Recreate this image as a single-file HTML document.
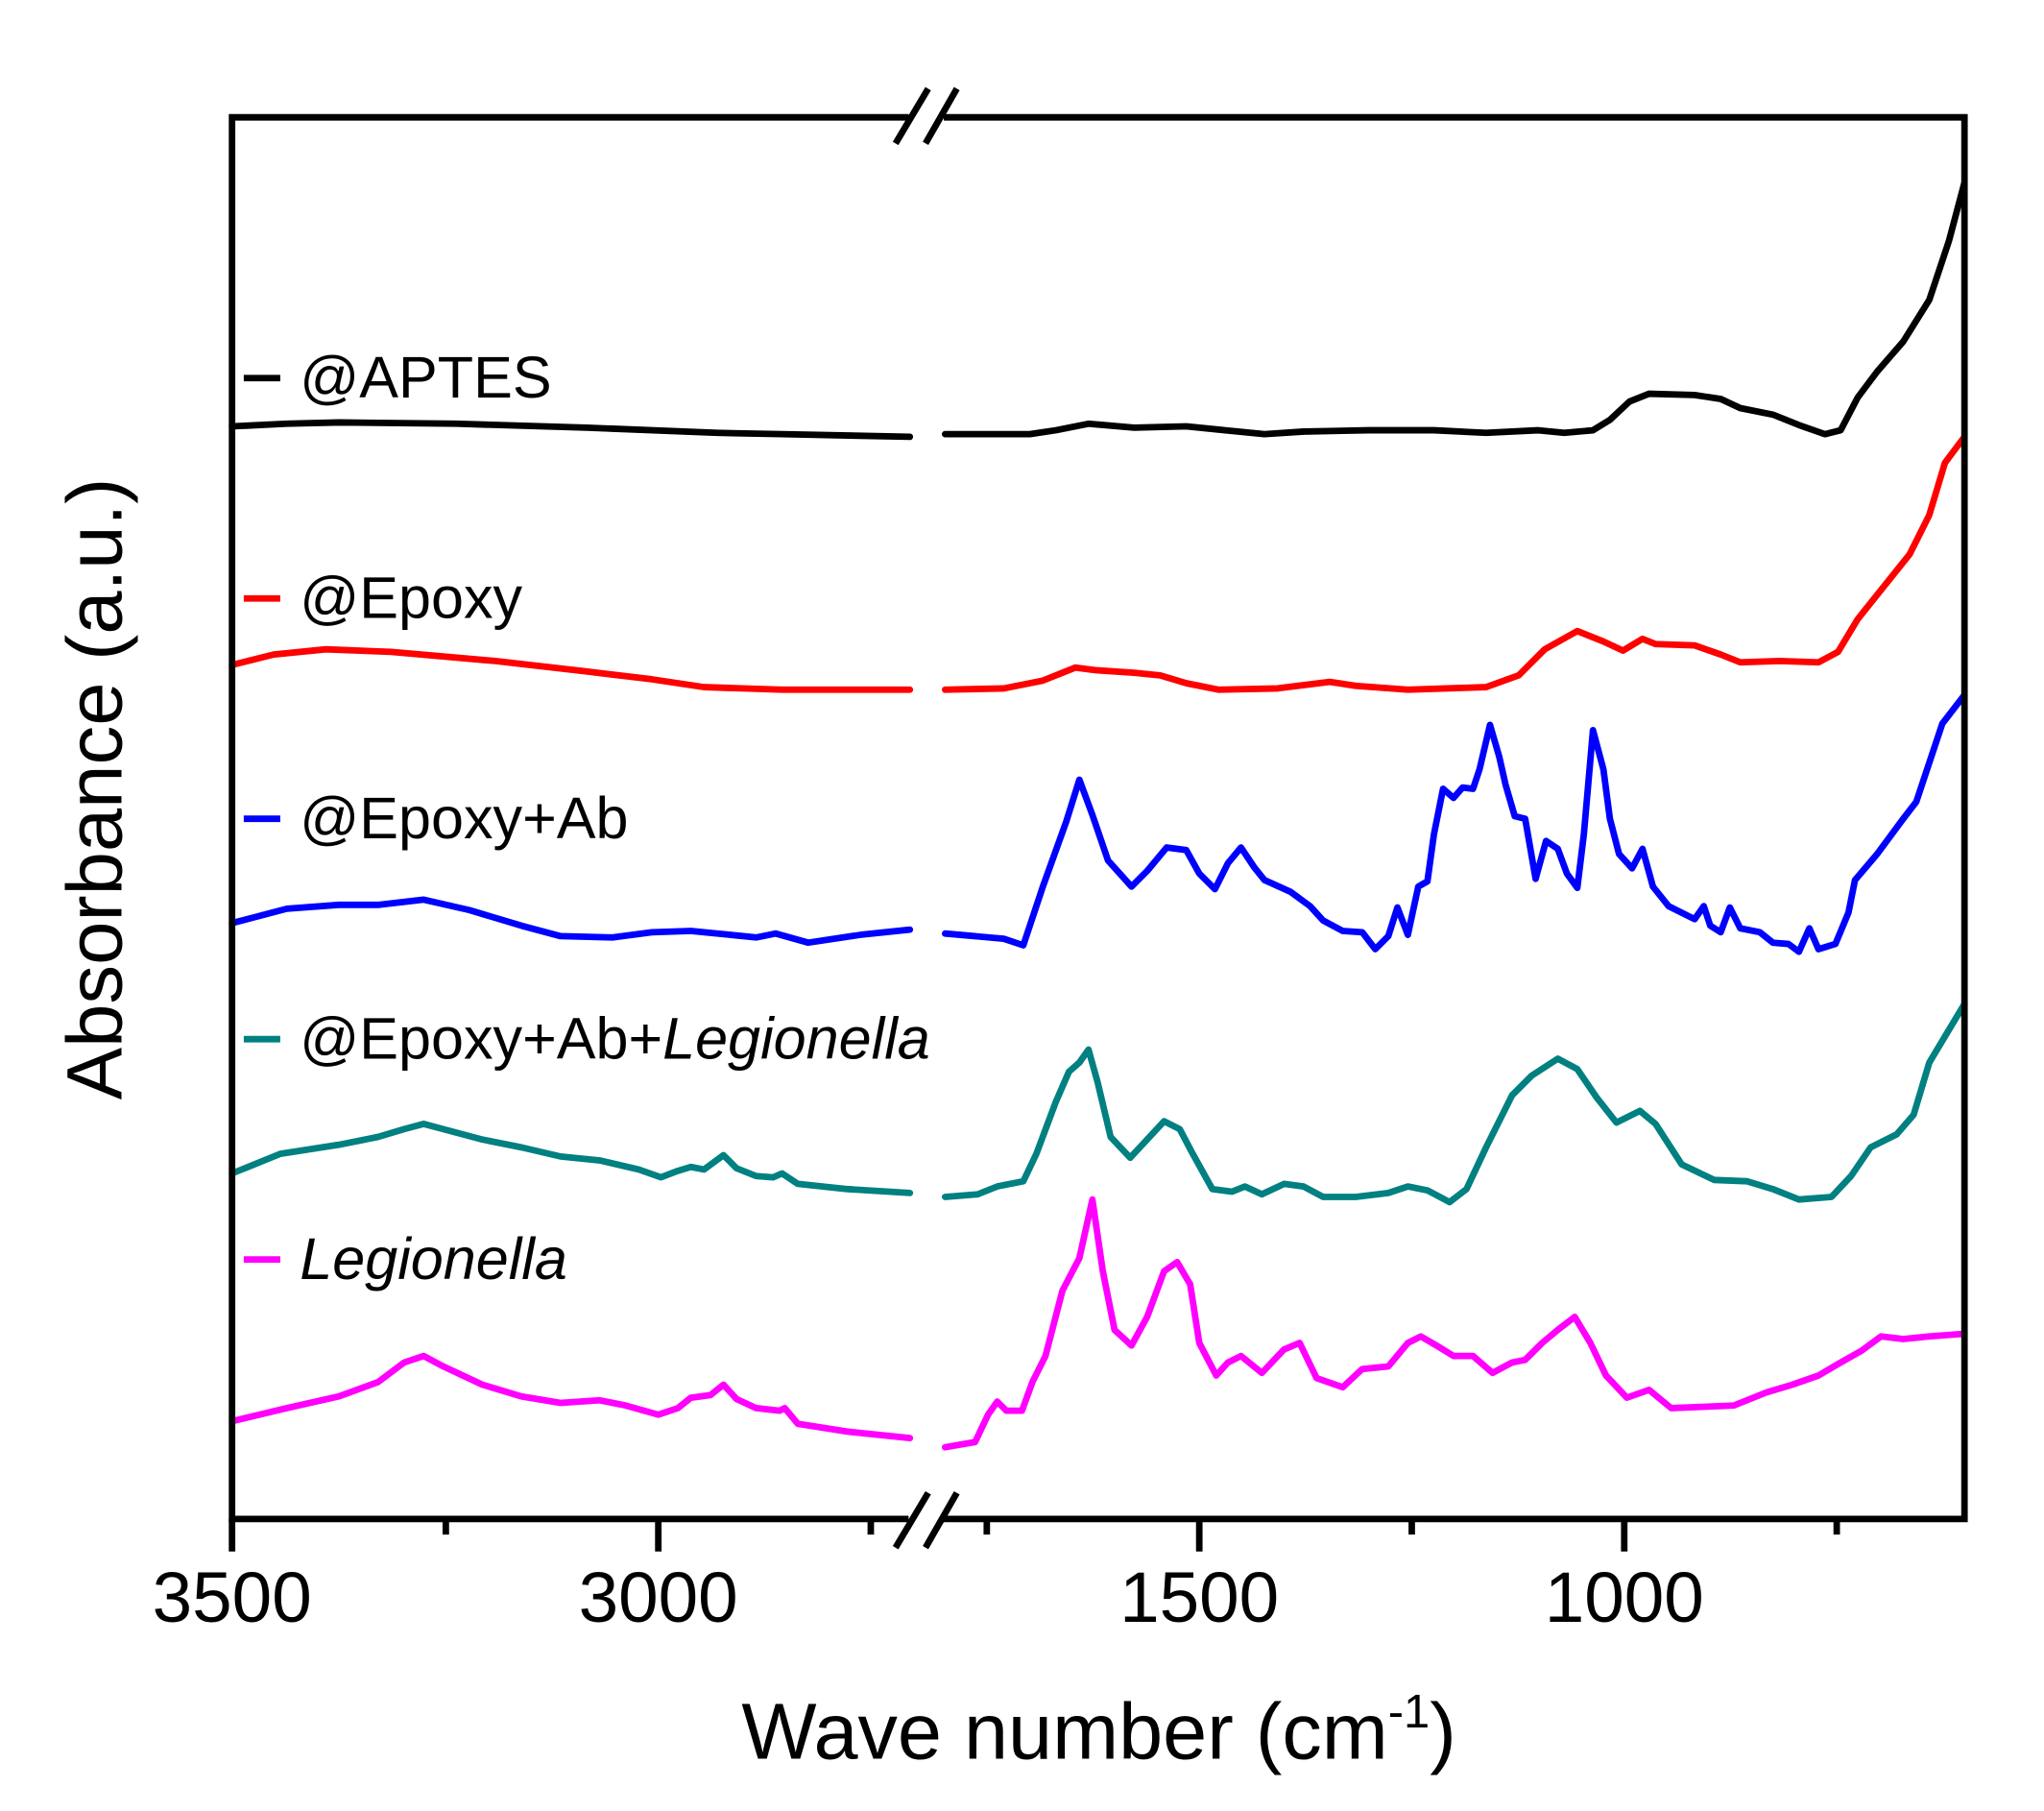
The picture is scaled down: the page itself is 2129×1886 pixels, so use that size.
<!DOCTYPE html>
<html><head><meta charset="utf-8"><style>html,body{margin:0;padding:0;background:#fff;}svg{display:block;}</style></head>
<body>
<svg width="2129" height="1886" viewBox="0 0 1568 1389" preserveAspectRatio="none" xmlns="http://www.w3.org/2000/svg" font-family="Liberation Sans, Arial, sans-serif">
<rect width="1568" height="1389" fill="#fff"/>
<g fill="none" stroke-width="5" stroke-linejoin="round" stroke-linecap="round">
<polyline stroke="#000" points="178,327 220,325 260,324 350,325 450,328 550,332 600,333 698,335"/>
<polyline stroke="#000" points="725,333 790,333 810,330 835,325 870,328 910,327 940,330 970,333 1000,331 1050,330 1100,330 1140,332 1180,330 1200,332 1222,330 1235,322 1250,308 1265,302 1300,303 1320,306 1335,313 1360,318 1380,326 1400,333 1412,330 1425,305 1440,285 1460,262 1480,230 1495,185 1507,140"/>
<polyline stroke="#ff0000" points="178,510 210,502 250,498 300,500 380,507 450,515 500,521 540,527 600,529 698,529"/>
<polyline stroke="#ff0000" points="725,529 770,528 800,522 825,512 840,514 870,516 890,518 910,524 935,529 980,528 1020,523 1040,526 1080,529 1140,527 1165,518 1185,498 1210,484 1230,492 1245,499 1260,490 1270,494 1300,495 1320,502 1335,508 1365,507 1395,508 1410,500 1425,475 1445,450 1465,425 1480,395 1492,355 1507,335"/>
<polyline stroke="#0000ff" points="178,708 220,697 260,694 290,694 325,690 360,698 400,710 430,718 470,719 500,715 530,714 560,717 580,719 595,716 620,723 660,717 698,713"/>
<polyline stroke="#0000ff" points="725,716 770,720 785,725 800,680 818,630 828,598 838,625 850,660 868,680 880,668 895,650 910,652 920,670 932,682 942,662 952,650 962,665 970,675 990,684 1005,695 1015,706 1030,714 1045,715 1055,728 1065,718 1072,696 1080,717 1088,680 1095,676 1100,640 1107,605 1115,612 1122,604 1130,605 1135,590 1143,556 1150,580 1155,602 1162,626 1170,628 1178,674 1186,645 1195,651 1202,670 1210,681 1215,640 1222,560 1230,590 1235,628 1242,655 1252,666 1260,651 1268,680 1280,695 1300,705 1307,695 1312,710 1320,715 1327,696 1335,712 1350,715 1360,723 1372,724 1380,730 1388,712 1395,728 1408,724 1418,700 1423,675 1440,655 1460,628 1470,615 1480,585 1490,555 1507,533"/>
<polyline stroke="#008080" points="178,900 215,885 260,878 290,872 310,866 325,862 340,866 370,874 400,880 430,887 460,890 490,897 507,903 520,898 530,895 540,897 555,886 565,896 580,902 593,903 600,900 612,908 650,912 698,915"/>
<polyline stroke="#008080" points="725,918 750,916 765,910 785,906 795,885 810,845 820,822 828,815 835,805 842,830 852,872 867,888 880,874 893,860 905,866 915,885 930,912 945,914 955,910 968,916 985,908 1000,910 1015,918 1040,918 1065,915 1080,910 1095,913 1112,922 1125,912 1140,880 1160,840 1175,825 1195,812 1210,820 1225,842 1240,861 1258,852 1270,862 1290,893 1315,905 1340,906 1360,912 1380,920 1405,918 1420,902 1435,880 1455,870 1468,855 1480,815 1495,790 1507,770"/>
<polyline stroke="#ff00ff" points="178,1090 220,1080 260,1071 290,1060 310,1045 325,1040 340,1048 370,1062 400,1071 430,1076 460,1074 480,1078 505,1085 520,1080 530,1072 545,1070 555,1062 565,1073 580,1080 598,1082 602,1080 612,1092 650,1098 698,1103"/>
<polyline stroke="#ff00ff" points="725,1110 748,1106 758,1085 765,1075 772,1082 784,1082 792,1060 802,1040 815,990 828,965 838,920 846,975 855,1020 868,1032 880,1010 893,975 903,968 913,985 920,1030 933,1055 942,1045 952,1040 968,1053 985,1035 997,1030 1010,1057 1030,1064 1045,1050 1065,1048 1080,1030 1090,1025 1102,1032 1115,1040 1130,1040 1145,1053 1160,1045 1170,1043 1183,1030 1195,1020 1208,1010 1220,1030 1232,1055 1248,1072 1265,1066 1282,1080 1330,1078 1355,1068 1375,1062 1395,1055 1412,1045 1428,1036 1443,1025 1460,1027 1480,1025 1507,1023"/>
</g>
<g stroke="#000" stroke-width="5" fill="none">
<polyline points="697,90 178,90 178,1165 697,1165"/>
<polyline points="724,90 1507,90 1507,1165 724,1165"/>
<line x1="687" y1="110" x2="712" y2="68"/>
<line x1="710" y1="110" x2="734" y2="68"/>
<line x1="687" y1="1187" x2="712" y2="1145"/>
<line x1="710" y1="1187" x2="734" y2="1145"/>
<line x1="178" y1="1165" x2="178" y2="1190"/>
<line x1="505" y1="1165" x2="505" y2="1190"/>
<line x1="920" y1="1165" x2="920" y2="1190"/>
<line x1="1246" y1="1165" x2="1246" y2="1190"/>
<line x1="342" y1="1165" x2="342" y2="1177"/>
<line x1="668" y1="1165" x2="668" y2="1177"/>
<line x1="757" y1="1165" x2="757" y2="1177"/>
<line x1="1083" y1="1165" x2="1083" y2="1177"/>
<line x1="1409" y1="1165" x2="1409" y2="1177"/>
</g>
<g font-size="55" text-anchor="middle" fill="#000">
<text x="178" y="1244">3500</text>
<text x="505" y="1244">3000</text>
<text x="920" y="1244">1500</text>
<text x="1246" y="1244">1000</text>
</g>
<text x="843" y="1349" font-size="61" text-anchor="middle">Wave number (cm<tspan font-size="36" dy="-24">-1</tspan><tspan dy="24">)</tspan></text>
<text transform="translate(93,605) rotate(-90)" font-size="60" text-anchor="middle">Absorbance (a.u.)</text>
<g stroke-width="5">
<line x1="187" y1="290" x2="215" y2="290" stroke="#000"/>
<line x1="187" y1="459" x2="215" y2="459" stroke="#ff0000"/>
<line x1="187" y1="628" x2="215" y2="628" stroke="#0000ff"/>
<line x1="187" y1="797" x2="215" y2="797" stroke="#008080"/>
<line x1="187" y1="966" x2="215" y2="966" stroke="#ff00ff"/>
</g>
<g font-size="45" fill="#000">
<text x="230" y="305">@APTES</text>
<text x="230" y="474">@Epoxy</text>
<text x="230" y="643">@Epoxy+Ab</text>
<text x="230" y="812">@Epoxy+Ab+<tspan font-style="italic">Legionella</tspan></text>
<text x="230" y="981" font-style="italic">Legionella</text>
</g>
</svg>
</body></html>
